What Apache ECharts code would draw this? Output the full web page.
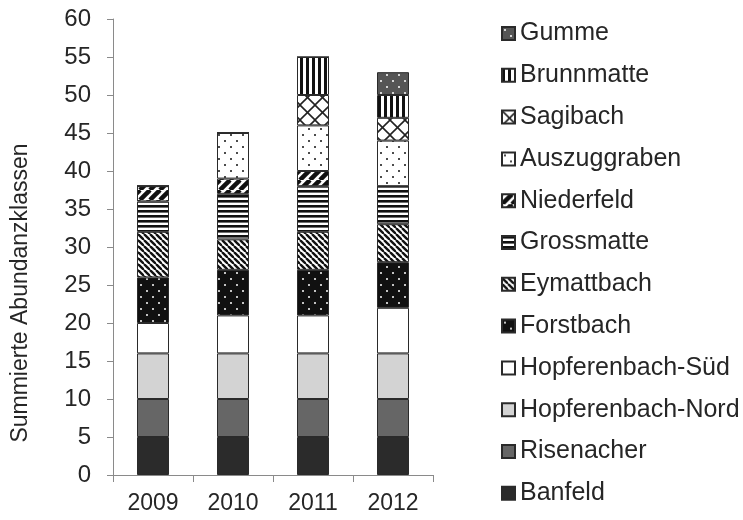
<!DOCTYPE html>
<html><head><meta charset="utf-8">
<script src="https://cdn.jsdelivr.net/npm/echarts@6/dist/echarts.min.js"></script>
<style>html,body{margin:0;padding:0;background:#fff}#c{width:743px;height:520px}</style>
</head><body><div id="c"></div>
<script>
const years = ['2009', '2010', '2011', '2012'];
const yTicks = [0, 60, 5];
const banfeld = [5, 5, 5, 5];
const risenacher = [5, 5, 5, 5];
const hopfNord = [6, 6, 6, 6];
const hopfSued = [4, 5, 5, 6];
const forstbach = [6, 6, 6, 6];
const eymattbach = [6, 4, 5, 5];
const grossmatte = [4, 6, 6, 5];
const niederfeld = [2, 2, 2, 0];
const auszuggraben = [0, 6, 6, 6];
const sagibach = [0, 0, 4, 3];
const brunnmatte = [0, 0, 5, 3];
const gumme = [0, 0, 0, 3];
const seriesNames = ['Banfeld', 'Risenacher', 'Hopferenbach-Nord', 'Hopferenbach-Süd', 'Forstbach', 'Eymattbach', 'Grossmatte', 'Niederfeld', 'Auszuggraben', 'Sagibach', 'Brunnmatte', 'Gumme'];
const seriesValues = [banfeld, risenacher, hopfNord, hopfSued, forstbach, eymattbach, grossmatte, niederfeld, auszuggraben, sagibach, brunnmatte, gumme];

function tile(s, draw) {
  const c = document.createElement('canvas');
  c.width = s; c.height = s;
  const g = c.getContext('2d');
  draw(g, s);
  return { image: c, repeat: 'repeat' };
}
function dots(bg, fg) {
  return tile(12, (g, s) => {
    g.fillStyle = bg; g.fillRect(0, 0, s, s);
    g.fillStyle = fg;
    g.beginPath(); g.arc(3, 3, 1, 0, Math.PI * 2); g.fill();
    g.beginPath(); g.arc(9, 9, 1, 0, Math.PI * 2); g.fill();
  });
}
function diag(s, lw, dir) {
  return tile(s, (g) => {
    g.fillStyle = '#fff'; g.fillRect(0, 0, s, s);
    g.strokeStyle = '#111'; g.lineWidth = lw;
    for (let x0 = -s; x0 <= s; x0 += s) {
      g.beginPath();
      if (dir === 'back') { g.moveTo(x0, 0); g.lineTo(x0 + s, s); }
      else { g.moveTo(x0, s); g.lineTo(x0 + s, 0); }
      g.stroke();
    }
  });
}
function horiz(s, lw) {
  return tile(s, (g) => {
    g.fillStyle = '#fff'; g.fillRect(0, 0, s, s);
    g.fillStyle = '#111'; g.fillRect(0, 0, s, lw);
  });
}
function vert(s, lw) {
  return tile(s, (g) => {
    g.fillStyle = '#fff'; g.fillRect(0, 0, s, s);
    g.fillStyle = '#111'; g.fillRect(0, 0, lw, s);
  });
}
function cross(s) {
  return tile(s, (g) => {
    g.fillStyle = '#fff'; g.fillRect(0, 0, s, s);
    g.strokeStyle = '#222'; g.lineWidth = 1.6;
    for (let x0 = -s; x0 <= s; x0 += s) {
      g.beginPath(); g.moveTo(x0, 0); g.lineTo(x0 + s, s); g.stroke();
      g.beginPath(); g.moveTo(x0, s); g.lineTo(x0 + s, 0); g.stroke();
    }
  });
}
const fills = [
  '#2b2b2b',
  '#666666',
  '#d3d3d3',
  '#ffffff',
  dots('#111111', '#ffffff'),
  diag(6, 2.4, 'back'),
  horiz(5, 2.6),
  diag(10, 4.5, 'fwd'),
  dots('#ffffff', '#111111'),
  cross(15),
  vert(6, 3),
  dots('#555555', '#ffffff')
];

const FONT = 'Liberation Sans, Arial, sans-serif';
const chart = echarts.init(document.getElementById('c'), null, { renderer: 'canvas' });
const series = seriesNames.map((n, i) => ({
  name: n, type: 'bar', stack: 'all', barWidth: 32,
  data: seriesValues[i],
  itemStyle: { color: fills[i], borderColor: '#2a2a2a', borderWidth: 1 },
  emphasis: { disabled: true }
}));
chart.setOption({
  animation: false,
  backgroundColor: '#fff',
  grid: { left: 113, top: 19, width: 320, height: 456, containLabel: false },
  legend: {
    orient: 'vertical', left: 496, top: 16,
    itemWidth: 13, itemHeight: 13, itemGap: 16.8,
    icon: 'rect',
    data: seriesNames.slice().reverse(),
    textStyle: { fontFamily: FONT, fontSize: 25, color: '#262626', lineHeight: 25 }
  },
  xAxis: {
    type: 'category', data: years,
    axisLine: { lineStyle: { color: '#8a8a8a', width: 1 } },
    axisTick: { show: true, length: 7, alignWithLabel: false, lineStyle: { color: '#8a8a8a' } },
    axisLabel: { fontFamily: FONT, fontSize: 23, color: '#262626', margin: 17 }
  },
  yAxis: {
    type: 'value', min: yTicks[0], max: yTicks[1], interval: yTicks[2],
    splitLine: { show: false },
    axisLine: { show: true, lineStyle: { color: '#8a8a8a', width: 1 } },
    axisTick: { show: true, length: 6, lineStyle: { color: '#8a8a8a' } },
    axisLabel: { fontFamily: FONT, fontSize: 24, color: '#262626', margin: 22 }
  },
  graphic: [{
    type: 'text', x: 21, y: 293, rotation: Math.PI / 2,
    style: { text: 'Summierte Abundanzklassen', font: '23px ' + FONT, fill: '#262626', textAlign: 'center', textVerticalAlign: 'middle' }
  }],
  series: series
});
</script></body></html>
